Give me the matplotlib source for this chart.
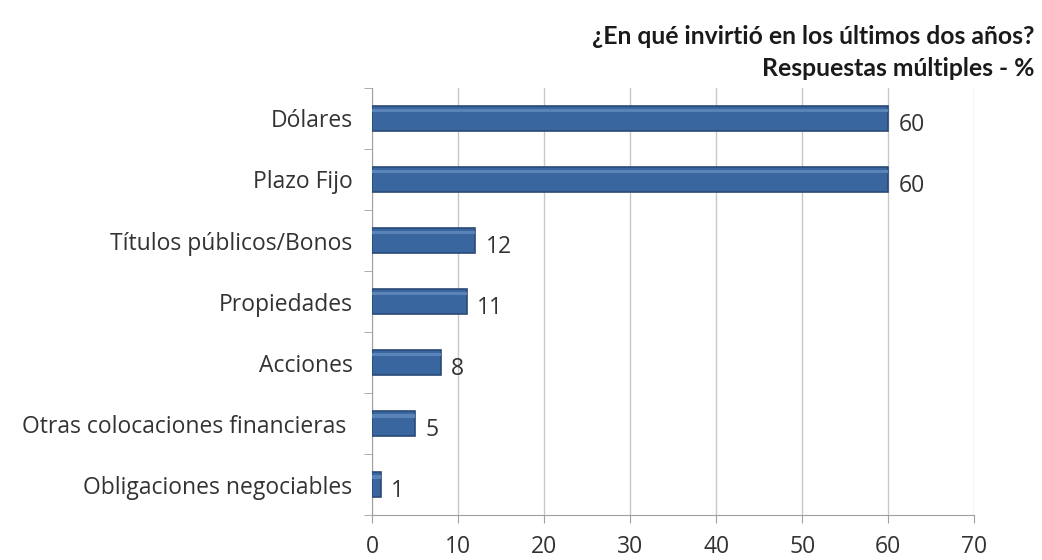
import matplotlib.pyplot as plt
import numpy as np

categorias = ['Dólares', 'Plazo Fijo', 'Títulos públicos/Bonos', 'Propiedades',
              'Acciones', 'Otras colocaciones financieras ', 'Obligaciones negociables']
valores = [60, 60, 12, 11, 8, 5, 1]
ticks_x = [0, 10, 20, 30, 40, 50, 60, 70]

plt.rcParams['font.family'] = ['Open Sans', 'DejaVu Sans']

fig = plt.figure(figsize=(10.42, 5.6), dpi=100)
ax = fig.add_axes([0.357, 0.080, 0.578, 0.763])

y = np.arange(len(categorias))
ax.barh(y, valores, height=0.41, color='#3a66a0', edgecolor='#2a4a75', linewidth=1.2, zorder=3)
# brillo superior de las barras
ax.barh(y - 0.13, valores, height=0.06, color='#5a83b8', linewidth=0, zorder=4)

for yi, v in zip(y, valores):
    ax.text(v + 1.2, yi + 0.1, str(v), va='center', ha='left', fontsize=16.5, color='#333333')

ax.set_ylim(len(categorias) - 0.5, -0.5)
ax.set_xlim(0, 70)
ax.set_yticks(y)
ax.set_yticklabels(categorias, fontsize=16.5, color='#333333')
ax.set_yticks(np.arange(len(categorias) + 1) - 0.5, minor=True)
ax.tick_params(axis='y', which='major', length=0, pad=14)
ax.tick_params(axis='y', which='minor', length=6, color='#a0a0a0')

ax.set_xticks(ticks_x)
ax.set_xticklabels([str(t) for t in ticks_x], fontsize=16.5, color='#333333')
ax.tick_params(axis='x', length=6, color='#a0a0a0', pad=8)
ax.grid(axis='x', color='#c8c8c8', linewidth=1, zorder=0)

for s in ['top', 'right']:
    ax.spines[s].set_visible(False)
for s in ['left', 'bottom']:
    ax.spines[s].set_color('#a0a0a0')

fig.text(0.993, 0.935, '¿En qué invirtió en los últimos dos años?', ha='right', va='center',
         fontsize=17.8, fontweight='bold', color='#1a1a1a', family=['Lato', 'DejaVu Sans'])
fig.text(0.993, 0.878, 'Respuestas múltiples - %', ha='right', va='center',
         fontsize=17.8, fontweight='bold', color='#1a1a1a', family=['Lato', 'DejaVu Sans'])

fig.savefig('out.png', dpi=100)
